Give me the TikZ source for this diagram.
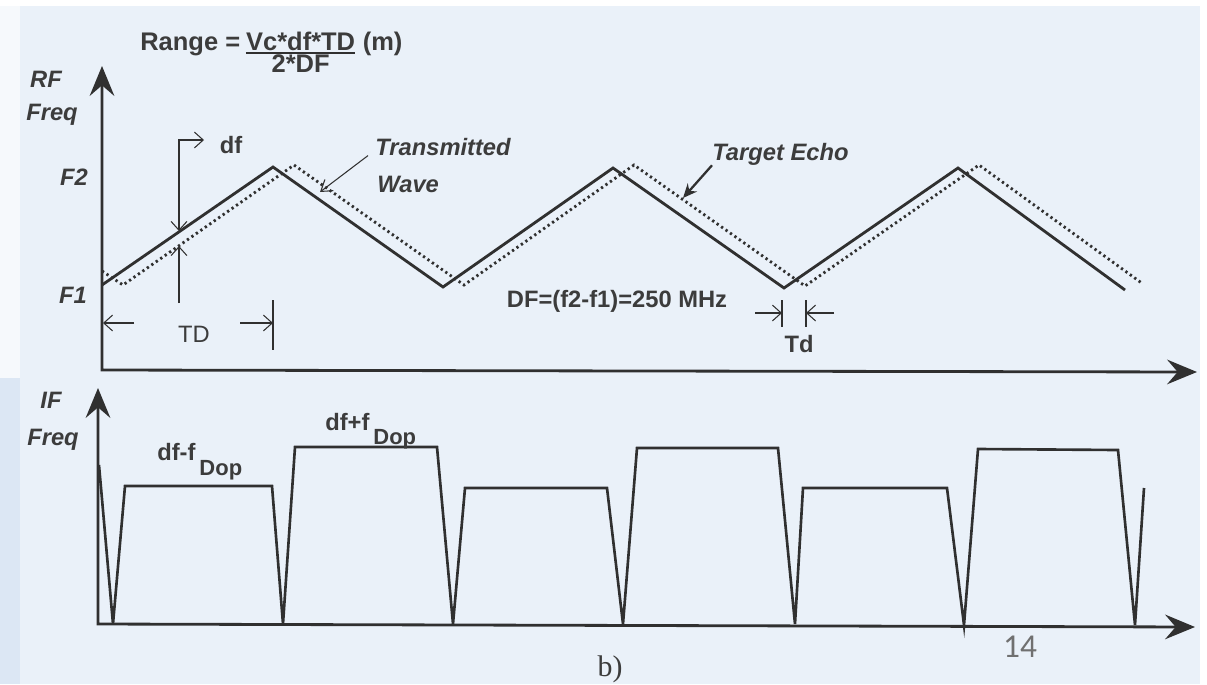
\documentclass[tikz,border=0pt]{standalone}
\usepackage{fontspec}
\setmainfont{Liberation Sans}
\newfontfamily\pagefont{Carlito}
\newfontfamily\capfont{Liberation Serif}
\usetikzlibrary{arrows.meta,positioning}
\definecolor{paperblue}{HTML}{EAF1F9}
\definecolor{paperedge}{HTML}{DCE7F4}
\definecolor{ink}{HTML}{303030}
\definecolor{inkgray}{HTML}{3C3C3C}
\definecolor{pagegray}{HTML}{707070}
\tikzset{
  axis/.style={
    draw=ink,
    line width=1.6pt,
    line join=miter,
    {Stealth[length=17pt,width=14pt,inset=6pt]}-{Stealth[length=17pt,width=14pt,inset=6pt]}
  },
  sweep/.style={draw=ink,line width=1.6pt,line join=miter},
  echo/.style={draw=ink,line width=1.6pt,dash pattern=on 1.3pt off 1.8pt},
  beat/.style={draw=ink,line width=1.5pt,line join=miter},
  dimline/.style={draw=ink,line width=0.6pt},
  dimarrow/.style={dimline,-{Straight Barb[length=5pt,width=9pt]}},
  lbl/.style={
    text=inkgray,
    inner sep=0pt,
    font=\bfseries\fontsize{13.5}{16}\selectfont
  },
  axislbl/.style={lbl,font=\bfseries\itshape\fontsize{13.5}{16}\selectfont},
  formula/.style={lbl,font=\bfseries\fontsize{14.5}{17}\selectfont}
}

\begin{document}
\begin{tikzpicture}[x=0.02cm,y=-0.02cm]
  \useasboundingbox (0,0) rectangle (1207,684);
  \fill[white] (0,0) rectangle (1207,684);
  \fill[paperblue] (0,6) rectangle (1200,684);
  \fill[white!55!paperblue] (0,6) rectangle (20,378);
  \fill[paperedge] (0,378) rectangle (20,684);

  % RF sweep
  \draw[axis] (102,66) -- (102,370) -- (1197,372);
  \draw[sweep] (102,285) -- (273,167) -- (443,287) -- (613,168) -- (784,288) -- (958,168) -- (1125,290);
  \draw[echo] (102,271) -- (123,285) -- (294,165) -- (464,285) -- (634,165) -- (805,286) -- (979,165) -- (1143,284);

  \node[axislbl,anchor=base] (rf) at (46,87) {RF};
  \node[axislbl,anchor=base] (rffreq) at (52,120) {Freq};
  \node[axislbl,anchor=base] (ftop) at (74,185) {F2};
  \node[axislbl,anchor=base] (fbot) at (73,303) {F1};

  \node[formula,anchor=base west] (rng) at (140,50) {Range =};
  \node[formula,anchor=base west] (num) at ([xshift=3pt]rng.base east) {Vc*df*TD};
  \draw[ink,line width=1pt] ([yshift=-1.5pt]num.base west) -- ([yshift=-1.5pt]num.base east);
  \node[formula,anchor=base] (den) at ([yshift=-13pt]num.base) {2*DF};
  \node[formula,anchor=base west] (unit) at ([xshift=4pt]num.base east) {(m)};

  % df between the two sweeps
  \coordinate (dfsolid) at (179,231);
  \coordinate (dfdot) at (179,246);
  \node[lbl,anchor=base] (df) at (231,153) {df};
  \draw[dimline,{Straight Barb[length=5pt,width=9pt]}-{Straight Barb[length=5pt,width=9pt]}] (dfsolid) -- (179,140) -- (204,140);
  \draw[dimarrow] (179,303) -- (dfdot);

  % TD
  \node[lbl,font=\fontsize{13.5}{16}\selectfont,anchor=base] (tdbig) at (194,342) {TD};
  \draw[dimarrow] (134,323) -- (103,323);
  \draw[dimarrow] (240,323) -- (273,323);
  \draw[dimline] (273,300) -- (273,350);

  % Td
  \node[lbl,anchor=base] (tdsmall) at (799,352) {Td};
  \draw[dimarrow] (755,313) -- (782,313);
  \draw[dimline] (782,300) -- (782,327);
  \draw[dimline] (806,300) -- (806,327);
  \draw[dimarrow] (834,313) -- (806,313);

  \node[lbl,anchor=base] (span) at (617,307) {DF=(f2-f1)=250 MHz};

  \node[axislbl,anchor=base west] (txa) at (375,155) {Transmitted};
  \node[axislbl,anchor=base west] (txb) at (377,192) {Wave};
  \coordinate (txtip) at (320,192);
  \draw[dimline,-{Straight Barb[length=6pt,width=8pt]}] ([xshift=-4pt]txa.south west) -- (txtip);

  \node[axislbl,anchor=base west] (echolbl) at (712,160) {Target Echo};
  \coordinate (echotip) at (683,198);
  \draw[draw=ink,line width=1.3pt,-{Stealth[length=8pt,width=7pt]}] (echolbl.south west) -- (echotip);

  % IF beat
  \draw[axis] (98,388) -- (98,624) -- (1195,627);
  \draw[beat] (99,465) -- (113,624) -- (125,486) -- (272,486) -- (283,624) -- (295,447) -- (437,447)
    -- (453,624) -- (465,488) -- (607,488) -- (623,624) -- (637,448) -- (778,448) -- (795,624)
    -- (803,488) -- (947,488) -- (964,625) -- (978,449) -- (1118,450) -- (1135,625) -- (1144,488);

  \node[axislbl,anchor=base] (iflbl) at (51,408) {IF};
  \node[axislbl,anchor=base] (iffreq) at (53,445) {Freq};
  \node[lbl,anchor=base west] (lowbeat) at (157,460)
    {df-f\,\raisebox{-9pt}{\fontsize{12.5}{14}\selectfont Dop}};
  \node[lbl,anchor=base west] (highbeat) at (325,430)
    {df+f\,\raisebox{-8pt}{\fontsize{12.5}{14}\selectfont Dop}};

  \node[text=pagegray,font=\pagefont\fontsize{19}{22}\selectfont,anchor=base] (pagenum) at (1020,657) {14};
  \node[text=inkgray,font=\capfont\fontsize{17}{20}\selectfont,anchor=base] (caption) at (610,676) {b)};
\end{tikzpicture}
\end{document}
